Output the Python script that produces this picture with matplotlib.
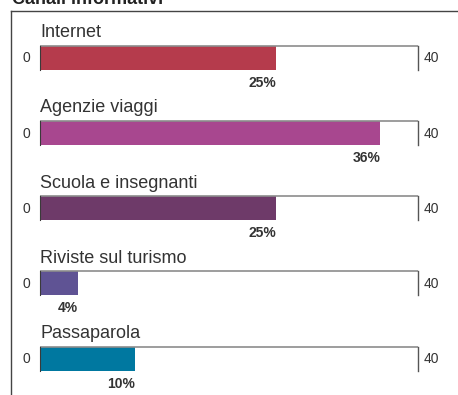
import matplotlib
matplotlib.use("Agg")
import matplotlib.pyplot as plt
from matplotlib.lines import Line2D

# Canali informativi - percentuale per canale
canali = ["Internet", "Agenzie viaggi", "Scuola e insegnanti", "Riviste sul turismo", "Passaparola"]
valori = [25, 36, 25, 4, 10]
colori = ["#b53b4c", "#a8478f", "#6e3a69", "#5f5394", "#0078a0"]
scala_max = 40

plt.rcParams["font.family"] = ["Liberation Sans", "DejaVu Sans"]

W, H = 458, 395
fig = plt.figure(figsize=(W / 100, H / 100), dpi=100)

# axes: x from 0..40 mapped onto pixels 40..418, full height in y
ax = fig.add_axes([40 / W, 0, (418 - 40) / W, 1])
step = 75.25
first = 57.5
ax.set_xlim(0, scala_max)
ax.set_ylim((H - first) / step, -first / step)
ax.axis("off")

bar_h = 24 / step
for i, (nome, v, c) in enumerate(zip(canali, valori, colori)):
    ax.barh(i, v, height=bar_h, color=c, edgecolor="none", clip_on=False)
    top = i - bar_h / 2
    bot = i + bar_h / 2
    # track: top line, end tick and left edge
    ax.plot([0, scala_max], [top, top], color="#8c8c8c", lw=1.2, clip_on=False, solid_capstyle="butt")
    ax.plot([scala_max, scala_max], [top, bot], color="#555555", lw=1.0, clip_on=False)
    ax.plot([0, 0], [top, bot], color="#3a3a3a", lw=0.8, clip_on=False)
    ax.text(0, i - 0.33, nome, fontsize=13, color="#333333", va="center", ha="left")
    ax.text(-1.0, i + 0.01, "0", fontsize=10, color="#333333", va="center", ha="right")
    ax.text(scala_max + 0.6, i + 0.01, "40", fontsize=10, color="#333333", va="center", ha="left")
    ax.text(v, bot + 0.08, f"{v}%", fontsize=10, fontweight="bold", color="#333333",
            va="top", ha="right")

# frame and title (top edge clipped by the figure border)
fig.add_artist(Line2D([11 / W, 11 / W], [0, 1 - 10.5 / H], color="#444444", lw=1.0))
fig.add_artist(Line2D([11 / W, 1], [1 - 10.5 / H, 1 - 10.5 / H], color="#444444", lw=1.0))
fig.text(12 / W, 1 - 4 / H, "Canali informativi", fontsize=13, fontweight="bold",
         color="#222222", va="baseline", ha="left")

fig.savefig("out.png", dpi=100)
